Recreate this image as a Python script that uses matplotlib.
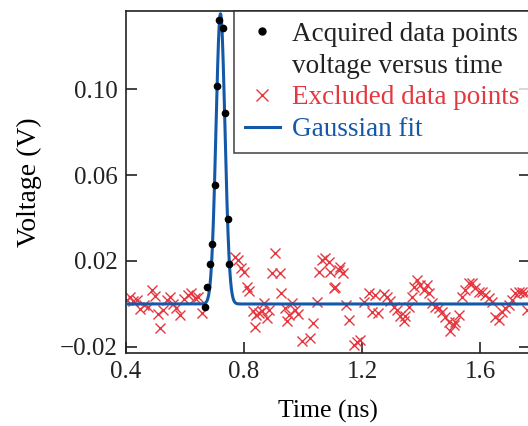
import matplotlib
matplotlib.use("Agg")
import matplotlib.pyplot as plt
import numpy as np
from matplotlib.lines import Line2D

plt.rcParams['font.family'] = ['Liberation Serif', 'DejaVu Serif']
plt.rcParams['mathtext.fontset'] = 'stix'

# acquired points used for the fit (ns, V)
t_fit = [0.668, 0.675, 0.684, 0.692, 0.702, 0.709, 0.715, 0.727, 0.735, 0.744, 0.748]
v_fit = [-0.0014, 0.0078, 0.0186, 0.0278, 0.0553, 0.1016, 0.1321, 0.1284, 0.0890, 0.0397, 0.0186]

# excluded points (ns, mV)
t_excl = [0.4024, 0.4136, 0.4237, 0.4373, 0.4475, 0.4610, 0.4746, 0.4881, 0.4983, 0.5085,
          0.5153, 0.5254, 0.5390, 0.5492, 0.5593, 0.5695, 0.5831, 0.5966, 0.6102, 0.6203,
          0.6339, 0.6441, 0.6566,
          0.7695, 0.7797, 0.7898, 0.7983, 0.8092, 0.8153, 0.8305, 0.8356, 0.8407, 0.8492,
          0.8600, 0.8678, 0.8769, 0.8831, 0.8939, 0.9051, 0.9220, 0.9254, 0.9390, 0.9447,
          0.9508, 0.9617, 0.9729, 0.9841, 0.9956, 1.0237, 1.0349, 1.0458, 1.0519, 1.0634,
          1.0746, 1.0858, 1.0915, 1.1027, 1.1085, 1.1197, 1.1254, 1.1346, 1.1458, 1.1536,
          1.1729, 1.1820, 1.1932, 1.2068, 1.2214, 1.2329, 1.2441, 1.2519, 1.2722, 1.2837,
          1.2949, 1.3061, 1.3176, 1.3288, 1.3400, 1.3458, 1.3569, 1.3685, 1.3739, 1.3854,
          1.3966, 1.4078, 1.4193, 1.4247, 1.4363, 1.4475, 1.4586, 1.4702, 1.4814, 1.4925,
          1.4983, 1.5095, 1.5153, 1.5264, 1.5380, 1.5492, 1.5603, 1.5719, 1.5831, 1.5942,
          1.6058, 1.6169, 1.6281, 1.6397, 1.6508, 1.6620, 1.6736, 1.6847, 1.6959, 1.7075,
          1.7186, 1.7297, 1.7414, 1.7525, 1.7593]
v_excl_mv = [1.86, 3.26, 1.40, 1.86, -2.33, -0.47, -1.40, 6.51, 3.72, -4.65,
             -11.16, -2.79, 1.86, 3.26, 0.0, -1.86, -5.12, 2.33, 4.19, 5.12,
             2.79, 3.26, -4.19,
             21.86, 20.46, 16.74, 14.88, 7.91, 6.05, -3.26, -10.70, -5.12, -4.19,
             -3.26, 0.47, -6.51, -2.79, 14.42, 23.72, 14.42, 5.12, -1.86, -7.91,
             -5.12, 0.47, -2.79, -4.65, -17.2, -15.8, -8.84, 0.93, 14.88, 20.46,
             21.39, 19.53, 14.88, 7.44, 7.91, 15.81, 17.21, 14.42, -0.47, -7.44,
             -19.07, -17.67, -16.74, 0.93, 5.12, -3.72, 4.19, -4.19, 4.65, 3.26,
             1.40, -1.40, -2.79, -5.58, -7.91, -5.58, -1.40, 3.26, 7.91, 11.16,
             8.84, 6.51, 8.84, 5.12, 0.47, -1.40, -1.86, -3.72, -6.05, -8.37,
             -12.56, -9.77, -8.37, -5.12, 3.26, 6.51, 9.77, 9.77, 7.44, 5.58,
             5.58, 4.19, 2.79, 0.93, -6.05, -7.44, -3.72, -1.86, -0.47, 1.86,
             5.12, 5.58, 5.58, 5.12, -2.79]

# gaussian fit parameters
amp, mu, sigma, offset = 0.135, 0.720, 0.0152, 0.0

red = '#e5373f'
blue = '#1459a8'

fig = plt.figure(figsize=(5.28, 4.26), dpi=100)
ax = fig.add_axes([0.2386, 0.1714, 0.766, 0.8028])

ax.plot(t_excl, np.array(v_excl_mv) / 1000, linestyle='none', marker='x',
        color=red, markersize=7.5, markeredgewidth=1.0, zorder=2)
tt = np.linspace(0.4, 1.77, 2000)
ax.plot(tt, offset + amp * np.exp(-0.5 * ((tt - mu) / sigma) ** 2),
        color=blue, linewidth=2.2, zorder=3)
ax.plot(t_fit, v_fit, linestyle='none', marker='o', color='black',
        markersize=4.5, zorder=4)

ax.set_xlim(0.4, 1.7695)
ax.set_ylim(-0.0228, 0.1363)
ax.set_xticks([0.4, 0.8, 1.2, 1.6])
ax.set_xticklabels(['0.4', '0.8', '1.2', '1.6'])
ax.set_yticks([-0.02, 0.02, 0.06, 0.10])
ax.set_yticklabels(['\u22120.02', '0.02', '0.06', '0.10'])
ax.tick_params(direction='in', length=8, width=1.2, labelsize=18, right=True,
               pad=6, colors='#222222')
for s in ax.spines.values():
    s.set_linewidth(1.2)
    s.set_color('#222222')

ax.set_xlabel('Time (ns)', fontsize=18.5, labelpad=12)
ax.set_ylabel('Voltage (V)', fontsize=20, labelpad=13)

handles = [
    Line2D([], [], linestyle='none', marker='o', color='black', markersize=5),
    Line2D([], [], linestyle='none'),
    Line2D([], [], linestyle='none', marker='x', color=red, markersize=8, markeredgewidth=1.0),
    Line2D([], [], color=blue, linewidth=2.2),
]
labels = ['Acquired data points', 'voltage versus time', 'Excluded data points', 'Gaussian fit']
leg = ax.legend(handles, labels, loc='upper right', fontsize=19.5, frameon=True,
                fancybox=False, edgecolor='#222222', borderaxespad=0,
                handlelength=1.3, handletextpad=0.45, labelspacing=0.25,
                borderpad=0.4)
leg.get_frame().set_linewidth(1.2)
for txt, c in zip(leg.get_texts(), ['#222222', '#222222', red, blue]):
    txt.set_color(c)

fig.savefig('out.png', dpi=100)
